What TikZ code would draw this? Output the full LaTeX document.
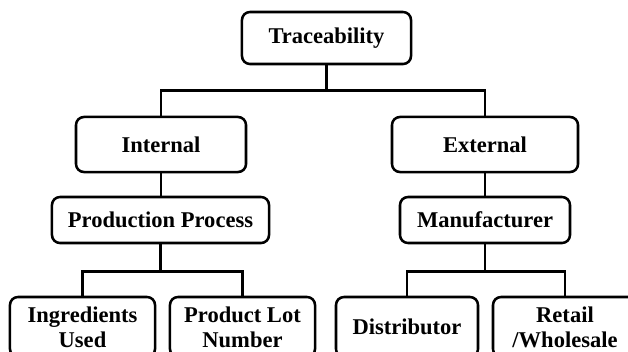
\documentclass[tikz,border=0pt]{standalone}
\usepackage{fontspec}
\setmainfont{Liberation Serif}

\tikzset{every picture/.style={line width=1.9pt}}
\tikzset{tbox/.style={draw, rounded corners=6pt, align=center, inner sep=0.75pt, font=\bfseries\fontsize{16.9}{18.8}\selectfont}}

\begin{document}
\begin{tikzpicture}[x=0.75pt,y=0.75pt,yscale=-1,xscale=1]
			%set diagram to 628 x 351
			\clip (0,0) rectangle (628,351);

			%Shape: Rounded Rect [id:trace] 
			\draw (326.5,38) node [tbox, minimum width=126.8pt, minimum height=39pt] (trace) {Traceability};
			%Shape: Rounded Rect [id:int] 
			\draw (161,144.5) node [tbox, minimum width=127.5pt, minimum height=41.3pt] (int) {Internal};
			%Shape: Rounded Rect [id:ext] 
			\draw (485,144.5) node [tbox, minimum width=139.5pt, minimum height=41.3pt] (ext) {External};
			%Shape: Rounded Rect [id:prod] 
			\draw (160.5,220) node [tbox, minimum width=162.8pt, minimum height=34.5pt] (prod) {Production Process};
			%Shape: Rounded Rect [id:man] 
			\draw (485,220) node [tbox, minimum width=127.5pt, minimum height=34.5pt] (man) {Manufacturer};
			%Shape: Rounded Rect [id:ingr] 
			\draw (82.5,327) node [tbox, minimum width=108.8pt, minimum height=45pt] (ingr) {Ingredients\\Used};
			%Shape: Rounded Rect [id:lot] 
			\draw (242.5,327) node [tbox, minimum width=108.8pt, minimum height=45pt] (lot) {Product Lot\\Number};
			%Shape: Rounded Rect [id:dist] 
			\draw (407,327) node [tbox, minimum width=106.5pt, minimum height=45pt] (dist) {Distributor};
			%Shape: Rounded Rect [id:ret] 
			\draw (565,327) node [tbox, minimum width=108pt, minimum height=45pt] (ret) {Retail\\/Wholesale};

			% Connector
			\draw (trace.south) -- ++(0,25) -| (int.north);
			% Connector
			\draw (trace.south) -- ++(0,25) -| (ext.north);
			% Connector
			\draw (int.south) -- (int.south |- prod.north);
			% Connector
			\draw (ext.south) -- (ext.south |- man.north);
			% Connector
			\draw (prod.south) -- ++(0,27) -| (ingr.north);
			% Connector
			\draw (prod.south) -- ++(0,27) -| (lot.north);
			% Connector
			\draw (man.south) -- ++(0,27) -| (dist.north);
			% Connector
			\draw (man.south) -- ++(0,27) -| (ret.north);

\end{tikzpicture}
\end{document}
